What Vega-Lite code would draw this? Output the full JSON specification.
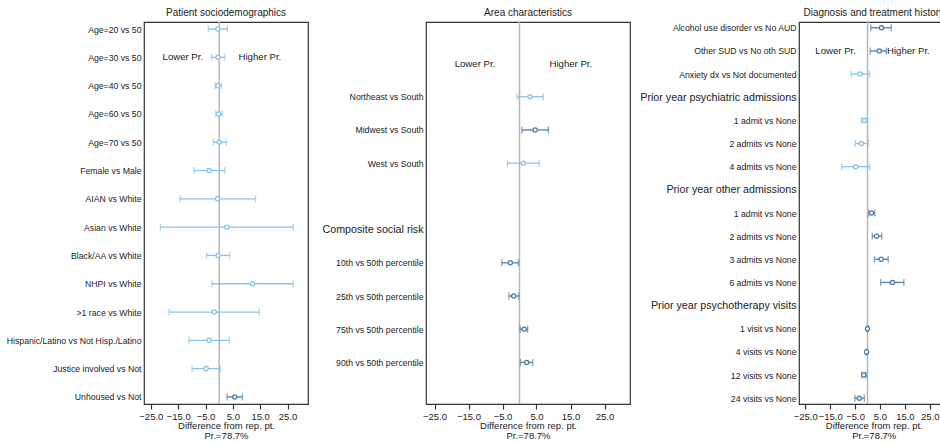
{
  "$schema": "https://vega.github.io/schema/vega-lite/v6.json",
  "padding": {"left": 0, "top": 7, "right": 0, "bottom": 0},
  "bounds": "full",
  "spacing": 2,
  "datasets": {
    "est": [
      {"panel": 1, "k": "Age=20 vs 50", "lo": -4.0, "est": -0.5, "hi": 3.0, "sig": false},
      {"panel": 1, "k": "Age=30 vs 50", "lo": -2.8, "est": -0.4, "hi": 2.1, "sig": false},
      {"panel": 1, "k": "Age=40 vs 50", "lo": -1.4, "est": -0.5, "hi": 0.8, "sig": false},
      {"panel": 1, "k": "Age=60 vs 50", "lo": -1.2, "est": -0.2, "hi": 1.1, "sig": false},
      {"panel": 1, "k": "Age=70 vs 50", "lo": -2.2, "est": 0.0, "hi": 2.6, "sig": false},
      {"panel": 1, "k": "Female vs Male", "lo": -9.2, "est": -3.7, "hi": 2.1, "sig": false},
      {"panel": 1, "k": "AIAN vs White", "lo": -14.3, "est": -0.6, "hi": 13.3, "sig": false},
      {"panel": 1, "k": "Asian vs White", "lo": -21.5, "est": 2.8, "hi": 27.1, "sig": false},
      {"panel": 1, "k": "Black/AA vs White", "lo": -4.6, "est": -0.4, "hi": 3.8, "sig": false},
      {"panel": 1, "k": "NHPI vs White", "lo": -2.7, "est": 12.2, "hi": 27.1, "sig": false},
      {"panel": 1, "k": ">1 race vs White", "lo": -18.3, "est": -1.8, "hi": 14.7, "sig": false},
      {"panel": 1, "k": "Hispanic/Latino vs Not Hisp./Latino", "lo": -11.1, "est": -3.7, "hi": 3.7, "sig": false},
      {"panel": 1, "k": "Justice involved vs Not", "lo": -9.9, "est": -4.8, "hi": 0.4, "sig": false},
      {"panel": 1, "k": "Unhoused vs Not", "lo": 2.9, "est": 5.7, "hi": 8.5, "sig": true},
      {"panel": 2, "k": "Northeast vs South", "lo": -0.7, "est": 3.1, "hi": 7.0, "sig": false},
      {"panel": 2, "k": "Midwest vs South", "lo": 0.7, "est": 4.6, "hi": 8.5, "sig": true},
      {"panel": 2, "k": "West vs South", "lo": -3.5, "est": 1.1, "hi": 5.8, "sig": false},
      {"panel": 2, "k": "10th vs 50th percentile", "lo": -5.2, "est": -2.7, "hi": -0.3, "sig": true},
      {"panel": 2, "k": "25th vs 50th percentile", "lo": -3.1, "est": -1.7, "hi": -0.2, "sig": true},
      {"panel": 2, "k": "75th vs 50th percentile", "lo": 0.2, "est": 1.4, "hi": 2.4, "sig": true},
      {"panel": 2, "k": "90th vs 50th percentile", "lo": 0.3, "est": 2.1, "hi": 3.9, "sig": true},
      {"panel": 3, "k": "Alcohol use disorder vs No AUD", "lo": 1.3, "est": 5.6, "hi": 9.5, "sig": true},
      {"panel": 3, "k": "Other SUD vs No oth SUD", "lo": 1.1, "est": 4.7, "hi": 7.5, "sig": true},
      {"panel": 3, "k": "Anxiety dx vs Not documented", "lo": -6.5, "est": -3.1, "hi": 0.8, "sig": false},
      {"panel": 3, "k": "1 admit vs None|p", "lo": -2.4, "est": -1.3, "hi": -0.1, "sig": false},
      {"panel": 3, "k": "2 admits vs None|p", "lo": -4.9, "est": -2.5, "hi": 0.4, "sig": false},
      {"panel": 3, "k": "4 admits vs None|p", "lo": -10.4, "est": -4.8, "hi": 0.9, "sig": false},
      {"panel": 3, "k": "1 admit vs None|o", "lo": 0.5, "est": 1.6, "hi": 2.9, "sig": true},
      {"panel": 3, "k": "2 admits vs None|o", "lo": 1.9, "est": 3.6, "hi": 5.7, "sig": true},
      {"panel": 3, "k": "3 admits vs None", "lo": 2.8, "est": 5.5, "hi": 8.3, "sig": true},
      {"panel": 3, "k": "6 admits vs None", "lo": 5.3, "est": 10.0, "hi": 14.6, "sig": true},
      {"panel": 3, "k": "1 visit vs None", "lo": -0.3, "est": 0.0, "hi": 0.3, "sig": true},
      {"panel": 3, "k": "4 visits vs None", "lo": -0.6, "est": -0.4, "hi": -0.1, "sig": true},
      {"panel": 3, "k": "12 visits vs None", "lo": -2.3, "est": -1.5, "hi": -0.6, "sig": true},
      {"panel": 3, "k": "24 visits vs None", "lo": -5.1, "est": -3.3, "hi": -1.3, "sig": true}
    ],
    "ann": [
      {"panel": 1, "k": "Age=30 vs 50", "x": -13.3, "label": "Lower Pr."},
      {"panel": 1, "k": "Age=30 vs 50", "x": 14.9, "label": "Higher Pr."},
      {"panel": 2, "k": "|b1", "x": -13.1, "label": "Lower Pr."},
      {"panel": 2, "k": "|b1", "x": 15.1, "label": "Higher Pr."},
      {"panel": 3, "k": "Other SUD vs No oth SUD", "x": -12.8, "label": "Lower Pr."},
      {"panel": 3, "k": "Other SUD vs No oth SUD", "x": 16.4, "label": "Higher Pr."}
    ],
    "ref": [{"ref": 0}]
  },
  "hconcat": [
    {
      "width": 164,
      "height": 382,
      "title": "Patient sociodemographics",
      "layer": [
        {"data": {"name": "ref"}, "mark": {"type": "rule", "color": "#b5b5b5", "strokeWidth": 1.5}, "encoding": {"x": {"field": "ref", "type": "quantitative", "axis": {"values": [-25, -15, -5, 5, 15, 25], "format": ".1f", "labelOverlap": false, "title": ["Difference from rep. pt.", "Pr.=78.7%"]}}}},
        {"data": {"name": "est"}, "transform": [{"filter": "datum.panel == 1"}],
         "encoding": {
           "y": {"field": "k", "type": "nominal", "scale": {"type": "point", "padding": 0.25, "domain": ["Age=20 vs 50", "Age=30 vs 50", "Age=40 vs 50", "Age=60 vs 50", "Age=70 vs 50", "Female vs Male", "AIAN vs White", "Asian vs White", "Black/AA vs White", "NHPI vs White", ">1 race vs White", "Hispanic/Latino vs Not Hisp./Latino", "Justice involved vs Not", "Unhoused vs Not"]}, "axis": {"title": null, "minExtent": 143}},
           "color": {"condition": {"test": "datum.sig", "value": "#4f7fa6"}, "value": "#88c4ea"}
         },
         "layer": [
           {"mark": {"type": "rule", "strokeWidth": 1.3}, "encoding": {"x": {"field": "lo", "type": "quantitative", "scale": {"domain": [-27.5, 32.5], "nice": false, "zero": false}, "axis": {"values": [-25, -15, -5, 5, 15, 25], "format": ".1f", "labelOverlap": false, "title": ["Difference from rep. pt.", "Pr.=78.7%"]}}, "x2": {"field": "hi"}}},
           {"mark": {"type": "tick", "size": 7, "thickness": 1.3}, "encoding": {"x": {"field": "lo", "type": "quantitative", "axis": {"values": [-25, -15, -5, 5, 15, 25], "format": ".1f", "labelOverlap": false, "title": ["Difference from rep. pt.", "Pr.=78.7%"]}}}},
           {"mark": {"type": "tick", "size": 7, "thickness": 1.3}, "encoding": {"x": {"field": "hi", "type": "quantitative", "axis": {"values": [-25, -15, -5, 5, 15, 25], "format": ".1f", "labelOverlap": false, "title": ["Difference from rep. pt.", "Pr.=78.7%"]}}}},
           {"mark": {"type": "point", "filled": false, "fill": "white", "size": 18, "strokeWidth": 1.3, "opacity": 1}, "encoding": {"x": {"field": "est", "type": "quantitative", "axis": {"values": [-25, -15, -5, 5, 15, 25], "format": ".1f", "labelOverlap": false, "title": ["Difference from rep. pt.", "Pr.=78.7%"]}}}}
         ]
        },
        {"data": {"name": "ann"}, "transform": [{"filter": "datum.panel == 1"}], "mark": {"type": "text", "fontSize": 9.6, "color": "#222"}, "encoding": {"x": {"field": "x", "type": "quantitative", "axis": {"values": [-25, -15, -5, 5, 15, 25], "format": ".1f", "labelOverlap": false, "title": ["Difference from rep. pt.", "Pr.=78.7%"]}}, "y": {"field": "k", "type": "nominal"}, "text": {"field": "label"}}}
      ]
    },
    {
      "width": 204,
      "height": 382,
      "title": "Area characteristics",
      "layer": [
        {"data": {"name": "ref"}, "mark": {"type": "rule", "color": "#b5b5b5", "strokeWidth": 1.5}, "encoding": {"x": {"field": "ref", "type": "quantitative", "axis": {"values": [-25, -15, -5, 5, 15, 25], "format": ".1f", "labelOverlap": false, "title": ["Difference from rep. pt.", "Pr.=78.7%"]}}}},
        {"data": {"name": "est"}, "transform": [{"filter": "datum.panel == 2"}],
         "encoding": {
           "y": {"field": "k", "type": "nominal", "scale": {"type": "point", "padding": 0.25, "domain": ["|b0", "|b1", "Northeast vs South", "Midwest vs South", "West vs South", "|b5", "Composite social risk", "10th vs 50th percentile", "25th vs 50th percentile", "75th vs 50th percentile", "90th vs 50th percentile", "|b11"]}, "axis": {"title": null, "minExtent": 114}},
           "color": {"condition": {"test": "datum.sig", "value": "#4f7fa6"}, "value": "#88c4ea"}
         },
         "layer": [
           {"mark": {"type": "rule", "strokeWidth": 1.3}, "encoding": {"x": {"field": "lo", "type": "quantitative", "scale": {"domain": [-27.5, 32.5], "nice": false, "zero": false}, "axis": {"values": [-25, -15, -5, 5, 15, 25], "format": ".1f", "labelOverlap": false, "title": ["Difference from rep. pt.", "Pr.=78.7%"]}}, "x2": {"field": "hi"}}},
           {"mark": {"type": "tick", "size": 7, "thickness": 1.3}, "encoding": {"x": {"field": "lo", "type": "quantitative", "axis": {"values": [-25, -15, -5, 5, 15, 25], "format": ".1f", "labelOverlap": false, "title": ["Difference from rep. pt.", "Pr.=78.7%"]}}}},
           {"mark": {"type": "tick", "size": 7, "thickness": 1.3}, "encoding": {"x": {"field": "hi", "type": "quantitative", "axis": {"values": [-25, -15, -5, 5, 15, 25], "format": ".1f", "labelOverlap": false, "title": ["Difference from rep. pt.", "Pr.=78.7%"]}}}},
           {"mark": {"type": "point", "filled": false, "fill": "white", "size": 18, "strokeWidth": 1.3, "opacity": 1}, "encoding": {"x": {"field": "est", "type": "quantitative", "axis": {"values": [-25, -15, -5, 5, 15, 25], "format": ".1f", "labelOverlap": false, "title": ["Difference from rep. pt.", "Pr.=78.7%"]}}}}
         ]
        },
        {"data": {"name": "ann"}, "transform": [{"filter": "datum.panel == 2"}], "mark": {"type": "text", "fontSize": 9.6, "color": "#222"}, "encoding": {"x": {"field": "x", "type": "quantitative", "axis": {"values": [-25, -15, -5, 5, 15, 25], "format": ".1f", "labelOverlap": false, "title": ["Difference from rep. pt.", "Pr.=78.7%"]}}, "y": {"field": "k", "type": "nominal"}, "text": {"field": "label"}}}
      ]
    },
    {
      "width": 149.5,
      "height": 382,
      "title": "Diagnosis and treatment history",
      "layer": [
        {"data": {"name": "ref"}, "mark": {"type": "rule", "color": "#b5b5b5", "strokeWidth": 1.5}, "encoding": {"x": {"field": "ref", "type": "quantitative", "axis": {"values": [-25, -15, -5, 5, 15, 25], "format": ".1f", "labelOverlap": false, "title": ["Difference from rep. pt.", "Pr.=78.7%"]}}}},
        {"data": {"name": "est"}, "transform": [{"filter": "datum.panel == 3"}],
         "encoding": {
           "y": {"field": "k", "type": "nominal", "scale": {"type": "point", "padding": 0.25, "domain": ["Alcohol use disorder vs No AUD", "Other SUD vs No oth SUD", "Anxiety dx vs Not documented", "Prior year psychiatric admissions", "1 admit vs None|p", "2 admits vs None|p", "4 admits vs None|p", "Prior year other admissions", "1 admit vs None|o", "2 admits vs None|o", "3 admits vs None", "6 admits vs None", "Prior year psychotherapy visits", "1 visit vs None", "4 visits vs None", "12 visits vs None", "24 visits vs None"]}, "axis": {"title": null, "minExtent": 165}},
           "color": {"condition": {"test": "datum.sig", "value": "#4f7fa6"}, "value": "#88c4ea"}
         },
         "layer": [
           {"mark": {"type": "rule", "strokeWidth": 1.3}, "encoding": {"x": {"field": "lo", "type": "quantitative", "scale": {"domain": [-27.5, 32.5], "nice": false, "zero": false}, "axis": {"values": [-25, -15, -5, 5, 15, 25], "format": ".1f", "labelOverlap": false, "title": ["Difference from rep. pt.", "Pr.=78.7%"]}}, "x2": {"field": "hi"}}},
           {"mark": {"type": "tick", "size": 7, "thickness": 1.3}, "encoding": {"x": {"field": "lo", "type": "quantitative", "axis": {"values": [-25, -15, -5, 5, 15, 25], "format": ".1f", "labelOverlap": false, "title": ["Difference from rep. pt.", "Pr.=78.7%"]}}}},
           {"mark": {"type": "tick", "size": 7, "thickness": 1.3}, "encoding": {"x": {"field": "hi", "type": "quantitative", "axis": {"values": [-25, -15, -5, 5, 15, 25], "format": ".1f", "labelOverlap": false, "title": ["Difference from rep. pt.", "Pr.=78.7%"]}}}},
           {"mark": {"type": "point", "filled": false, "fill": "white", "size": 18, "strokeWidth": 1.3, "opacity": 1}, "encoding": {"x": {"field": "est", "type": "quantitative", "axis": {"values": [-25, -15, -5, 5, 15, 25], "format": ".1f", "labelOverlap": false, "title": ["Difference from rep. pt.", "Pr.=78.7%"]}}}}
         ]
        },
        {"data": {"name": "ann"}, "transform": [{"filter": "datum.panel == 3"}], "mark": {"type": "text", "fontSize": 9.6, "color": "#222"}, "encoding": {"x": {"field": "x", "type": "quantitative", "axis": {"values": [-25, -15, -5, 5, 15, 25], "format": ".1f", "labelOverlap": false, "title": ["Difference from rep. pt.", "Pr.=78.7%"]}}, "y": {"field": "k", "type": "nominal"}, "text": {"field": "label"}}}
      ]
    }
  ],
  "config": {
    "font": "Liberation Sans",
    "view": {"stroke": "#333", "strokeWidth": 1.2},
    "title": {"fontSize": 10, "fontWeight": "normal", "color": "#222", "offset": 3},
    "axis": {"grid": false, "domain": false, "labelColor": "#222", "titleColor": "#222"},
    "axisX": {"tickSize": 5, "tickWidth": 1.2, "tickColor": "#333", "labelFontSize": 9.5, "labelPadding": 2, "labelOverlap": false, "labelSeparation": -10, "titleFontSize": 9.5, "titleFontWeight": "normal", "titlePadding": 0, "titleLineHeight": 9.5},
    "axisY": {"ticks": false, "labelPadding": 3, "labelExpr": "split(datum.value, '|')[0]", "labelFontSize": {"condition": {"test": "indexof(['Composite social risk','Prior year psychiatric admissions','Prior year other admissions','Prior year psychotherapy visits'], datum.value) >= 0", "value": 10.7}, "value": 8.7}, "labelLimit": 300}
  }
}
